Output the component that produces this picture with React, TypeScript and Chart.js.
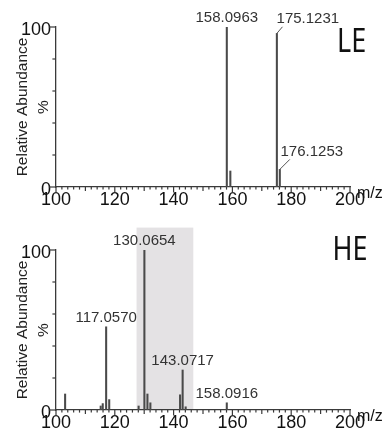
import React, { useEffect, useRef } from 'react';
import { Chart, registerables } from 'chart.js';

Chart.register(...registerables);

// ---------- data ----------
const xRange = [100, 200];
const yRange = [0, 100];
const yTickLabels = [0, 100];
const xTickLabels = [100, 120, 140, 160, 180, 200];

// LE spectrum
const leMz = [158.0963, 159.3, 175.1231, 176.1253];
const leIntensity = [100, 10, 96, 11];
const leLabelled = [158.0963, 175.1231, 176.1253];

// HE spectrum
const heMz = [103.1, 115.2, 115.9, 117.057, 118.1, 128.1, 130.0654, 131.1, 132.1, 142.2, 143.0717, 144.1, 158.0916];
const heIntensity = [10, 2.5, 4, 52, 6.5, 2.5, 100, 10, 4.5, 9.5, 25, 2, 4.5];
const heLabelled = [117.057, 130.0654, 143.0717, 158.0916];
const heBand = [127.4, 146.7];
const heBandTop = 114;

const panelNames = ['LE', 'HE'];
const yTitle = ['Relative Abundance', '%'];
const xUnit = 'm/z';

// ---------- styles ----------
const W = 386;
const H = 218;
const AXIS = '#3a3a3a';
const BAR = '#4a4a4a';
const SANS = '"Liberation Sans", Arial, sans-serif';

type Leader = { ldx: number; ldy: number; dx: number; dy: number };

const spectrumPlugin = {
  id: 'spectrum',
  beforeDraw(chart: any, _a: any, opts: any) {
    const { ctx, scales } = chart;
    const x = scales.x, y = scales.y;
    if (opts.band) {
      const l = x.getPixelForValue(opts.band[0]);
      const r = x.getPixelForValue(opts.band[1]);
      const t = y.getPixelForValue(opts.bandTop);
      const b = y.getPixelForValue(0);
      ctx.save();
      ctx.fillStyle = '#e4e2e4';
      ctx.fillRect(l, t, r - l, b - t);
      ctx.restore();
    }
  },
  afterDraw(chart: any, _a: any, opts: any) {
    const { ctx, scales } = chart;
    const x = scales.x, y = scales.y;
    const y0 = y.getPixelForValue(0);
    const xl = x.getPixelForValue(xRange[0]);
    ctx.save();
    ctx.strokeStyle = AXIS;
    ctx.lineWidth = 1.2;
    // x tick marks
    x.ticks.forEach((t: any) => {
      const v = t.value;
      const px = x.getPixelForValue(v);
      const is20 = Math.abs(v / 20 - Math.round(v / 20)) < 1e-6;
      const is10 = Math.abs(v / 10 - Math.round(v / 10)) < 1e-6;
      const len = is20 ? 5.5 : is10 ? 4 : 2.6;
      ctx.beginPath();
      ctx.moveTo(px, y0);
      ctx.lineTo(px, y0 + len);
      ctx.stroke();
    });
    // y tick marks
    y.ticks.forEach((t: any) => {
      const py = y.getPixelForValue(t.value);
      const major = yTickLabels.includes(t.value);
      const len = major ? 7 : 3.6;
      ctx.beginPath();
      ctx.moveTo(xl, py);
      ctx.lineTo(xl - len, py);
      ctx.stroke();
    });

    // peak labels
    const mzs: number[] = chart.data.datasets[0].data.map((d: any) => d.x);
    const ints: number[] = chart.data.datasets[0].data.map((d: any) => d.y);
    ctx.font = '15px ' + SANS;
    ctx.fillStyle = '#333';
    ctx.textAlign = 'center';
    ctx.textBaseline = 'middle';
    ctx.lineWidth = 1;
    ctx.strokeStyle = '#555';
    (opts.labelled as number[]).forEach((mz) => {
      const i = mzs.indexOf(mz);
      const px = x.getPixelForValue(mz);
      const py = y.getPixelForValue(ints[i]);
      const lead: Leader | undefined = opts.leaders && opts.leaders[String(mz)];
      if (lead) {
        ctx.beginPath();
        ctx.moveTo(px, py);
        ctx.lineTo(px + lead.ldx, py + lead.ldy);
        ctx.stroke();
        ctx.fillText(mz.toFixed(4), px + lead.dx, py + lead.dy);
      } else {
        ctx.fillText(mz.toFixed(4), px, py - 9);
      }
    });

    // m/z unit
    ctx.font = '16px ' + SANS;
    ctx.fillStyle = '#111';
    ctx.textAlign = 'left';
    ctx.textBaseline = 'alphabetic';
    ctx.fillText(xUnit, x.right + 7, y0 + 11);

    // panel name
    ctx.font = '27px "Noto Sans", sans-serif';
    ctx.fillStyle = '#111';
    ctx.translate(opts.nameX, opts.nameY);
    ctx.scale(1, 1.2);
    ctx.fillText(opts.name, 0, 0);
    ctx.restore();
  },
};

function makeConfig(mz: number[], inten: number[], pluginOpts: any, padTop: number, xHeight: number) {
  return {
    type: 'bar' as const,
    data: {
      datasets: [
        {
          data: mz.map((m, i) => ({ x: m, y: inten[i] })),
          backgroundColor: BAR,
          borderWidth: 0,
          barThickness: 1.4,
        },
      ],
    },
    plugins: [spectrumPlugin],
    options: {
      animation: false,
      responsive: false,
      devicePixelRatio: 1,
      layout: { padding: { top: padTop, right: 36, left: 0, bottom: 0 } },
      plugins: {
        legend: { display: false },
        tooltip: { enabled: false },
        spectrum: pluginOpts,
      },
      scales: {
        x: {
          type: 'linear',
          min: xRange[0],
          max: xRange[1],
          offset: false,
          grid: { display: false, drawTicks: false, offset: false },
          border: { display: true, color: AXIS, width: 1.3 },
          ticks: {
            stepSize: 2,
            autoSkip: false,
            maxRotation: 0,
            padding: 2.5,
            color: '#111',
            font: { family: SANS, size: 18 },
            callback: (v: number) => (xTickLabels.includes(v) ? String(v) : ''),
          },
          afterFit: (s: any) => {
            s.height = xHeight;
          },
        },
        y: {
          min: yRange[0],
          max: yRange[1],
          grid: { display: false, drawTicks: false },
          border: { display: true, color: AXIS, width: 1.3 },
          ticks: {
            stepSize: 10,
            padding: 5,
            labelOffset: 3,
            color: '#111',
            font: { family: SANS, size: 18 },
            callback: (v: number) => (yTickLabels.includes(v) ? String(v) : ''),
          },
          title: {
            display: true,
            text: yTitle,
            color: '#222',
            font: { family: SANS, size: 15.5, lineHeight: 1.3 },
            padding: { top: 13, bottom: 0 },
          },
          afterFit: (s: any) => {
            s.width = 56;
          },
        },
      },
    },
  };
}

export default function App() {
  const topRef = useRef<HTMLCanvasElement>(null);
  const botRef = useRef<HTMLCanvasElement>(null);

  useEffect(() => {
    const top = new Chart(
      topRef.current as HTMLCanvasElement,
      makeConfig(
        leMz,
        leIntensity,
        {
          labelled: leLabelled,
          leaders: {
            '175.1231': { ldx: 5.6, ldy: -6.6, dx: 31, dy: -15 },
            '176.1253': { ldx: 10, ldy: -10, dx: 32, dy: -17.5 },
          },
          name: panelNames[0],
          nameX: 337,
          nameY: 51.5,
        },
        27,
        31
      ) as any
    );
    const bot = new Chart(
      botRef.current as HTMLCanvasElement,
      makeConfig(
        heMz,
        heIntensity,
        {
          labelled: heLabelled,
          band: heBand,
          bandTop: heBandTop,
          name: panelNames[1],
          nameX: 332.5,
          nameY: 42,
        },
        32,
        26
      ) as any
    );
    return () => {
      top.destroy();
      bot.destroy();
    };
  }, []);

  return (
    <div style={{ position: 'absolute', left: 0, top: 0, width: W, height: 2 * H, background: '#fff' }}>
      <canvas ref={topRef} width={W} height={H} style={{ width: W, height: H, display: 'block' }} />
      <canvas ref={botRef} width={W} height={H} style={{ width: W, height: H, display: 'block' }} />
    </div>
  );
}
